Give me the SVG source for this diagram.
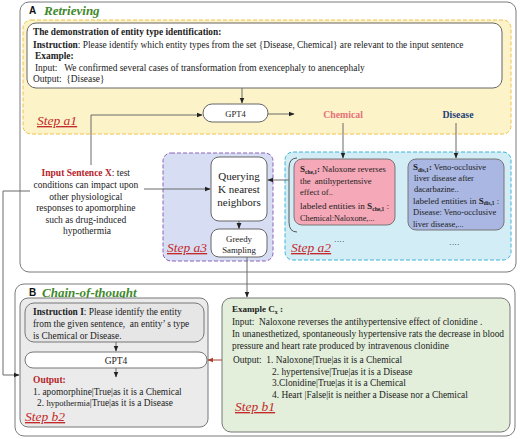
<svg xmlns="http://www.w3.org/2000/svg" width="520" height="439" viewBox="0 0 520 439">
<defs>
<style>
.t{font-family:"Liberation Serif",serif;fill:#222}
.b{font-weight:bold}
.step{font-family:"Liberation Serif",serif;font-style:italic;font-size:13.5px;fill:#c42a2a;text-decoration:underline}
.ttl{font-family:"Liberation Serif",serif;font-style:italic;font-weight:bold;font-size:13px;fill:#3f8a2c}
.let{font-family:"Liberation Sans",sans-serif;font-weight:bold;font-size:10px;fill:#111}
.ln{fill:none;stroke:#6b6b6b;stroke-width:1}
</style>
<marker id="ar" viewBox="0 0 10 10" refX="9" refY="5" markerWidth="6" markerHeight="6" orient="auto"><path d="M0,1 L10,5 L0,9 Z" fill="#222"/></marker>
<marker id="arr" viewBox="0 0 10 10" refX="9" refY="5" markerWidth="6" markerHeight="6" orient="auto"><path d="M0,1 L10,5 L0,9 Z" fill="#a8402f"/></marker>
</defs>

<g id="panelA">
<rect x="20" y="2" width="496" height="270" rx="9" fill="#fff" stroke="#7a7a7a" stroke-width="1"/>
<text class="let" x="29" y="14">A</text>
<text class="ttl" x="44" y="15">Retrieving</text>
</g>

<g id="stepA1">
<rect x="23" y="20" width="488" height="114" rx="8" fill="#fdf3c8" stroke="#f0c24e" stroke-dasharray="4,2"/>
<text class="step" x="37" y="125">Step a1</text>
</g>

<g id="demo">
<rect x="27" y="23" width="475" height="65" rx="9" fill="#fff" stroke="#666"/>
<text class="t b" x="33" y="35" font-size="9.3">The demonstration of  entity type identification:</text>
<text class="t" x="33" y="48" font-size="9.4"><tspan class="b">Instruction</tspan>: Please identify which entity types from the set {Disease, Chemical} are relevant to the input sentence</text>
<text class="t b" x="35" y="59" font-size="9.4">Example:</text>
<text class="t" x="35" y="71" font-size="9.4" xml:space="preserve">Input:   We confirmed several cases of transformation from exencephaly to anencephaly</text>
<text class="t" x="33" y="82" font-size="9.4" xml:space="preserve">Output:  {Disease}</text>
</g>

<g id="gpt4a">
<rect x="203" y="104" width="65" height="18" rx="9" fill="#fff" stroke="#666"/>
<text class="t" x="235.5" y="116.5" font-size="8.5" text-anchor="middle">GPT4</text>
</g>

<g id="labels">
<text class="t b" x="343" y="118" font-size="9.8" text-anchor="middle" style="fill:#e8707a">Chemical</text>
<text class="t b" x="458" y="118" font-size="9.8" text-anchor="middle" style="fill:#1f3f7a">Disease</text>
</g>

<g id="inputX">
<text class="t" font-size="9.5" text-anchor="middle">
<tspan x="87" y="176"><tspan class="b" style="fill:#b5232a">Input Sentence X</tspan>: test</tspan>
<tspan x="87" y="188">conditions can impact upon</tspan>
<tspan x="87" y="199.5">other physiological</tspan>
<tspan x="87" y="211">responses to apomorphine</tspan>
<tspan x="87" y="222.5">such as drug-induced</tspan>
<tspan x="87" y="234">hypothermia</tspan>
</text>
</g>

<g id="stepA3">
<rect x="163" y="153" width="110" height="108" rx="8" fill="#d7def4" stroke="#8a62b8" stroke-dasharray="4,2"/>
<text class="step" x="167" y="252">Step a3</text>
<rect x="211" y="157" width="56" height="64" rx="8" fill="#fff" stroke="#666"/>
<text class="t" font-size="11" text-anchor="middle"><tspan x="239" y="180">Querying</tspan><tspan x="239" y="193">K nearest</tspan><tspan x="239" y="206">neighbors</tspan></text>
<rect x="211" y="229" width="56" height="28" rx="8" fill="#fff" stroke="#666"/>
<text class="t" font-size="8.8" text-anchor="middle"><tspan x="239" y="241.5">Greedy</tspan><tspan x="239" y="253">Sampling</tspan></text>
</g>

<g id="stepA2">
<rect x="285" y="152" width="226" height="108" rx="8" fill="#d3edf7" stroke="#3cb4d6" stroke-dasharray="4,2"/>
<text class="step" x="291" y="252">Step a2</text>
<text class="t" x="334" y="244" font-size="8">····</text>
<text class="t" x="449" y="247" font-size="8">····</text>
<path d="M297,158 Q289,158 289,168 L289,222 Q289,232 297,232" fill="none" stroke="#555"/>
<rect x="294" y="159" width="101" height="66" rx="8" fill="#f5a8b8" stroke="#777"/>
<text class="t" font-size="8.6">
<tspan x="300" y="172"><tspan class="b" font-size="9">S</tspan><tspan class="b" font-size="5.5" dy="1.5">che,1</tspan><tspan class="b" dy="-1.5">:</tspan> Naloxone reverses</tspan>
<tspan x="300" y="183.5" xml:space="preserve">the  antihypertensive</tspan>
<tspan x="300" y="195">effect of..</tspan>
<tspan x="300" y="209" font-size="9.2">labeled entities in <tspan class="b">S</tspan><tspan class="b" font-size="5.5" dy="1.5">che,1</tspan><tspan dy="-1.5"> :</tspan></tspan>
<tspan x="300" y="221" font-size="8.3">Chemical:Naloxone,...</tspan>
</text>
<rect x="408" y="159" width="96" height="71" rx="8" fill="#a9b7e2" stroke="#777"/>
<text class="t" font-size="8.5">
<tspan x="413" y="170"><tspan class="b" font-size="9">S</tspan><tspan class="b" font-size="5.5" dy="1.5">dis,1</tspan><tspan class="b" dy="-1.5">:</tspan> Veno-occlusive</tspan>
<tspan x="414" y="181">liver disease after</tspan>
<tspan x="414" y="192">dacarbazine..</tspan>
<tspan x="413" y="203.5" font-size="9">labeled entities in <tspan class="b">S</tspan><tspan class="b" font-size="5.5" dy="1.5">dis,1</tspan><tspan dy="-1.5"> :</tspan></tspan>
<tspan x="413" y="215">Disease: Veno-occlusive</tspan>
<tspan x="413" y="226.5">liver disease,...</tspan>
</text>
</g>

<g id="panelB">
<rect x="15" y="284" width="500" height="152" rx="9" fill="#fff" stroke="#7a7a7a"/>
<text class="let" x="29" y="296">B</text>
<text class="ttl" x="42" y="297">Chain-of-thought</text>
</g>

<g id="stepB2">
<rect x="20" y="298" width="188" height="129" rx="8" fill="#ebebeb" stroke="#777"/>
<rect x="25" y="303" width="179" height="39" rx="9" fill="#e6e6e6" stroke="#777"/>
<text class="t" font-size="9.4">
<tspan x="33" y="315"><tspan class="b">Instruction I</tspan>: Please identify the entity</tspan>
<tspan x="33" y="327" xml:space="preserve">from the given sentence,  an entity’ s type</tspan>
<tspan x="33" y="339">is Chemical or Disease.</tspan>
</text>
<rect x="25" y="352" width="182" height="16" rx="8" fill="#fff" stroke="#777"/>
<text class="t" x="116" y="363.5" font-size="9.5" text-anchor="middle">GPT4</text>
<text class="t b" x="33" y="383" font-size="9.5" style="fill:#b5232a">Output:</text>
<text class="t" font-size="9.4"><tspan x="33" y="395">1. apomorphine|True|as it is a Chemical</tspan><tspan x="37" y="406">2. <tspan font-size="8.6">hypothermia</tspan>|True|as it is a Disease</tspan></text>
<text class="step" x="25" y="421">Step b2</text>
</g>

<g id="stepB1">
<rect x="222" y="298" width="288" height="134" rx="9" fill="#e3efda" stroke="#777"/>
<text class="t b" x="232" y="312" font-size="9">Example C<tspan font-size="6" dy="1.5">x</tspan><tspan dy="-1.5"> :</tspan></text>
<text class="t" font-size="9.4">
<tspan x="232" y="325" xml:space="preserve">Input:  Naloxone reverses the antihypertensive effect of clonidine .</tspan>
<tspan x="232" y="337">In unanesthetized, spontaneously hypertensive rats the decrease in blood</tspan>
<tspan x="232" y="348.5">pressure and heart rate produced by intravenous clonidine</tspan>
<tspan x="233" y="363" xml:space="preserve">Output:  1. Naloxone|True|as it is a Chemical</tspan>
<tspan x="272" y="374.5">2. hypertensive|True|as it is a Disease</tspan>
<tspan x="272" y="386">3.Clonidine|True|as it is a Chemical</tspan>
<tspan x="272" y="397.5">4. Heart |False|it is neither a Disease nor a Chemical</tspan>
</text>
<text class="step" x="235" y="411">Step b1</text>
</g>

<g id="connectors">
<line class="ln" x1="242" y1="88" x2="242" y2="103" marker-end="url(#ar)"/>
<line class="ln" x1="268" y1="114" x2="294" y2="114" marker-end="url(#ar)"/>
<polyline class="ln" points="91,165 91,115 202,115" marker-end="url(#ar)"/>
<line class="ln" x1="343" y1="123" x2="343" y2="158" marker-end="url(#ar)"/>
<line class="ln" x1="456" y1="123" x2="456" y2="158" marker-end="url(#ar)"/>
<line class="ln" x1="144" y1="189" x2="210" y2="189" marker-end="url(#ar)"/>
<line class="ln" x1="289" y1="180" x2="268" y2="180" marker-end="url(#ar)"/>
<line class="ln" x1="239" y1="221" x2="239" y2="228.5" marker-end="url(#ar)"/>
<line class="ln" x1="247" y1="257" x2="247" y2="297" marker-end="url(#ar)"/>
<polyline class="ln" points="30,191 3,191 3,375 19,375" marker-end="url(#ar)"/>
<line class="ln" x1="116" y1="342" x2="116" y2="351" marker-end="url(#ar)"/>
<line class="ln" x1="116" y1="368" x2="116" y2="377" marker-end="url(#ar)"/>
<line x1="222" y1="360" x2="208" y2="360" stroke="#a8402f" stroke-width="1" marker-end="url(#arr)"/>
</g>
</svg>
